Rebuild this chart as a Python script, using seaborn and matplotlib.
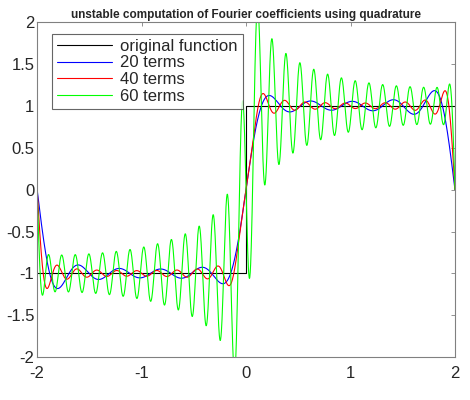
import numpy as np
import pandas as pd
import matplotlib
matplotlib.use("Agg")
import matplotlib.pyplot as plt
import seaborn as sns

# square wave on [-2, 2]; coefficients from a Gauss-Legendre rule with too few nodes
half_period = 2.0
x_break = [-2.0, 0.0, 0.0, 2.0]
y_break = [-1.0, -1.0, 1.0, 1.0]
term_counts = [20, 40, 60]
series_names = ["original function", "20 terms", "40 terms", "60 terms"]
series_colors = ["#000000", "#0000ff", "#ff0000", "#00ff00"]
n_quad = 49

xx = np.linspace(-2, 2, 2001)
nodes, weights = np.polynomial.legendre.leggauss(n_quad)
nodes = nodes * half_period
weights = weights * half_period
f_nodes = np.sign(nodes)


def fourier_sum(n_terms):
    # n_terms counts cosines and sines together
    s = np.zeros_like(xx)
    for k in range(1, n_terms // 2 + 1):
        w = k * np.pi / half_period
        a = np.sum(weights * f_nodes * np.cos(w * nodes)) / half_period
        b = np.sum(weights * f_nodes * np.sin(w * nodes)) / half_period
        s += a * np.cos(w * xx) + b * np.sin(w * xx)
    return s


frames = [pd.DataFrame({"x": x_break, "y": y_break, "series": series_names[0]})]
for name, n in zip(series_names[1:], term_counts):
    frames.append(pd.DataFrame({"x": xx, "y": fourier_sum(n), "series": name}))
df = pd.concat(frames, ignore_index=True)

sns.set_style("white")
plt.rcParams["font.family"] = ["Liberation Sans", "DejaVu Sans"]

fig = plt.figure(figsize=(4.7, 4.0), dpi=100)
ax = fig.add_axes([0.079, 0.107, 0.889, 0.838])
sns.lineplot(data=df, x="x", y="y", hue="series", palette=series_colors,
             estimator=None, sort=False, linewidth=0.8, ax=ax)

ax.set_xlim(-2, 2)
ax.set_ylim(-2, 2)
ax.set_xticks([-2, -1, 0, 1, 2])
ax.set_xticklabels(["-2", "-1", "0", "1", "2"])
ax.set_yticks([-2, -1.5, -1, -0.5, 0, 0.5, 1, 1.5, 2])
ax.set_yticklabels(["-2", "-1.5", "-1", "-0.5", "0", "0.5", "1", "1.5", "2"])
ax.set_xlabel("")
ax.set_ylabel("")
ax.tick_params(direction="in", length=3, width=0.6, colors="#808080",
               labelcolor="#262626", labelsize=12, top=True, right=True, pad=2)
ax.tick_params(axis="x", pad=6)
for sp in ax.spines.values():
    sp.set_color("#808080")
    sp.set_linewidth(0.8)
ax.set_title("unstable computation of Fourier coefficients using quadrature",
             fontsize=8.5, fontweight="bold", pad=3)

leg = ax.legend(loc="upper left", bbox_to_anchor=(0.035, 0.965), fontsize=12,
                frameon=True, fancybox=False, handlelength=3.3, handletextpad=0.5,
                borderpad=0.3, labelspacing=0.1, borderaxespad=0)
leg.get_frame().set_edgecolor("#404040")
leg.get_frame().set_linewidth(0.8)
for line in leg.get_lines():
    line.set_linewidth(0.8)

fig.savefig("out.png", dpi=100)
